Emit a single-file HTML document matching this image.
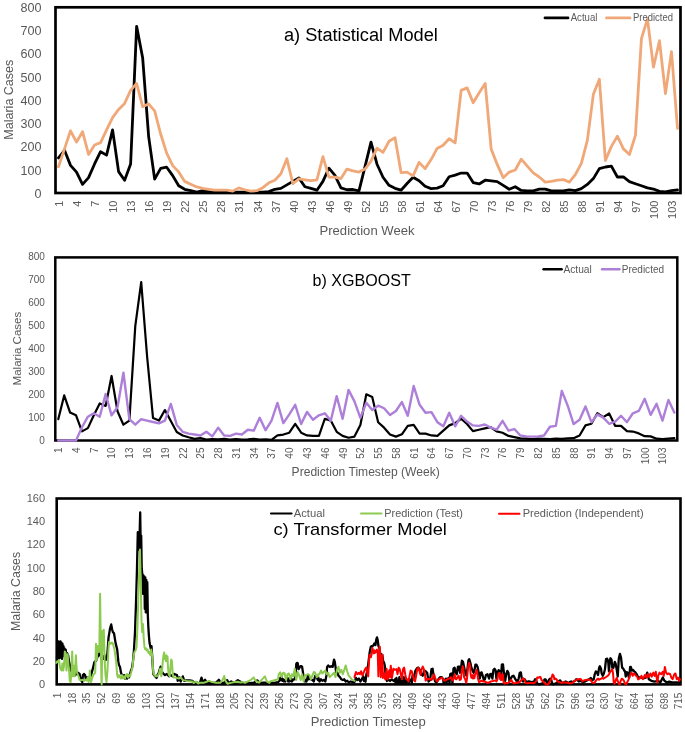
<!DOCTYPE html>
<html><head><meta charset="utf-8"><title>Malaria charts</title>
<style>html,body{margin:0;padding:0;background:#fff;}body{width:685px;height:732px;overflow:hidden;}svg{display:block;position:absolute;left:0;top:0;}svg.txt{will-change:transform;}</style>
</head><body>
<svg width="685" height="732" viewBox="0 0 685 732" font-family='"Liberation Sans", sans-serif'>
<rect width="685" height="732" fill="#fff"/>
<rect x="55.5" y="7.3" width="625" height="185.7" fill="none" stroke="#000" stroke-width="2.7"/>
<polyline points="58.5,157.95 64.51,150.29 70.52,165.38 76.53,172.11 82.54,184.41 88.55,177.68 94.56,163.98 100.57,151.68 106.58,155.16 112.59,129.86 118.6,171.64 124.61,180.23 130.62,163.98 136.63,26.33 142.64,57.67 148.65,136.59 154.66,179.07 160.67,168.39 166.68,167.23 172.69,175.59 178.7,185.8 184.71,189.29 190.72,190.68 196.73,192.07 202.74,190.68 208.75,191.38 214.75,192.07 220.76,192.07 226.77,192.07 232.78,192.07 238.79,192.07 244.8,192.07 250.81,192.07 256.82,192.07 262.83,192.07 268.84,191.61 274.85,189.29 280.86,188.36 286.87,184.88 292.88,181.39 298.89,177.91 304.9,186.73 310.91,188.36 316.92,190.21 322.93,181.39 328.94,168.16 334.95,175.36 340.96,187.89 346.97,189.75 352.98,189.52 358.99,190.91 365,166.54 371,142.16 377.01,164.22 383.02,177.22 389.03,185.34 395.04,188.36 401.05,190.21 407.06,183.48 413.07,177.22 419.08,180.7 425.09,186.27 431.1,188.59 437.11,188.13 443.12,185.8 449.13,176.75 455.14,175.13 461.15,173.04 467.16,173.04 473.17,182.55 479.18,183.95 485.19,180.23 491.2,180.93 497.21,181.63 503.22,185.34 509.23,189.29 515.24,186.73 521.25,190.45 527.25,190.91 533.26,190.91 539.27,189.05 545.28,189.05 551.29,190.91 557.3,190.91 563.31,190.91 569.32,189.98 575.33,190.68 581.34,188.59 587.35,184.41 593.36,178.61 599.37,168.63 605.38,167 611.39,166.07 617.4,176.98 623.41,176.98 629.42,181.63 635.43,183.72 641.44,185.8 647.45,187.89 653.46,189.05 659.47,191.38 665.48,191.84 671.49,190.68 677.5,189.98" fill="none" stroke="#000" stroke-width="2.8" stroke-linejoin="round" stroke-linecap="round"/>
<polyline points="58.5,166.77 64.51,148.9 70.52,130.79 76.53,142.16 82.54,131.72 88.55,154.47 94.56,144.95 100.57,142.63 106.58,129.86 112.59,117.56 118.6,109.44 124.61,103.4 130.62,90.4 136.63,83.44 142.64,106.65 148.65,103.86 154.66,110.83 160.67,134.04 166.68,153.07 172.69,165.61 178.7,171.88 184.71,181.39 190.72,184.18 196.73,186.96 202.74,188.36 208.75,189.29 214.75,190.21 220.76,190.21 226.77,190.21 232.78,191.14 238.79,187.89 244.8,189.75 250.81,191.14 256.82,190.68 262.83,187.66 268.84,182.79 274.85,180.23 280.86,173.73 286.87,158.65 292.88,183.72 298.89,178.84 304.9,179.77 310.91,180.7 316.92,179.77 322.93,156.56 328.94,177.22 334.95,177.22 340.96,178.61 346.97,169.09 352.98,170.95 358.99,172.11 365,169.09 371,161.2 377.01,148.2 383.02,152.38 389.03,141.24 395.04,137.75 401.05,172.57 407.06,172.11 413.07,175.82 419.08,162.36 425.09,168.63 431.1,159.57 437.11,148.43 443.12,145.18 449.13,138.68 455.14,142.86 461.15,90.4 467.16,87.85 473.17,102.7 479.18,92.72 485.19,83.44 491.2,149.13 497.21,164.45 503.22,177.68 509.23,172.11 515.24,170.02 521.25,159.11 527.25,166.07 533.26,172.81 539.27,176.98 545.28,182.09 551.29,181.39 557.3,180.23 563.31,179.54 569.32,182.09 575.33,174.66 581.34,163.29 587.35,140.31 593.36,94.35 599.37,79.26 605.38,160.5 611.39,146.34 617.4,136.13 623.41,148.9 629.42,154.47 635.43,135.43 641.44,38.64 647.45,18.91 653.46,67.19 659.47,40.73 665.48,93.65 671.49,51.64 677.5,128.47" fill="none" stroke="#F0A878" stroke-width="2.8" stroke-linejoin="round" stroke-linecap="round"/>
<line x1="545" y1="17.9" x2="568" y2="17.9" stroke="#000" stroke-width="2.8" stroke-linecap="round"/>
<line x1="606.5" y1="17.9" x2="630" y2="17.9" stroke="#F0A878" stroke-width="2.8" stroke-linecap="round"/>
<rect x="55.3" y="257.4" width="622" height="183.1" fill="none" stroke="#000" stroke-width="2.5"/>
<polyline points="58.26,419.21 64.19,395.41 70.11,412.58 76.03,415.32 81.96,431.35 87.88,428.14 93.8,415.32 99.73,403.42 105.65,405.94 111.58,375.96 117.5,411.2 123.42,424.71 129.35,420.59 135.27,326.06 141.2,282.12 147.12,356.73 153.04,418.07 158.97,420.59 164.89,410.06 170.81,421.05 176.74,432.03 182.66,435.46 188.59,437.3 194.51,438.9 200.43,437.98 206.36,439.58 212.28,439.13 218.2,439.36 224.13,438.9 230.05,439.58 235.98,439.13 241.9,439.58 247.82,439.36 253.75,438.9 259.67,439.58 265.6,439.36 271.52,439.81 277.44,435.46 283.37,434.55 289.29,432.72 295.21,423.79 301.14,432.72 307.06,435.46 312.99,435.92 318.91,435.92 324.83,418.76 330.76,420.59 336.68,431.8 342.6,435.92 348.53,437.75 354.45,436.61 360.38,424.94 366.3,394.27 372.22,397.01 378.15,422.19 384.07,427.68 390,434.55 395.92,436.61 401.84,434.32 407.77,425.85 413.69,424.94 419.61,433.63 425.54,433.63 431.46,435.46 437.39,435.92 443.31,430.66 449.23,425.39 455.16,423.11 461.08,418.76 467,424.02 472.93,431.12 478.85,429.74 484.78,428.37 490.7,427.23 496.62,431.35 502.55,432.72 508.47,435.92 514.4,437.07 520.32,438.44 526.24,438.67 532.17,439.13 538.09,438.67 544.01,438.9 549.94,439.13 555.86,438.67 561.79,438.9 567.71,438.44 573.63,438.21 579.56,435.46 585.48,425.39 591.4,423.79 597.33,413.26 603.25,417.15 609.18,413.49 615.1,425.85 621.02,425.85 626.95,431.12 632.87,431.57 638.8,433.4 644.72,436.15 650.64,436.38 656.57,438.67 662.49,439.13 668.41,438.67 674.34,438.21" fill="none" stroke="#000" stroke-width="2.2" stroke-linejoin="round" stroke-linecap="round"/>
<polyline points="58.26,440.5 64.19,440.5 70.11,440.5 76.03,440.5 81.96,427.23 87.88,416.7 93.8,413.26 99.73,416.7 105.65,394.04 111.58,415.32 117.5,407.31 123.42,372.75 129.35,419.21 135.27,424.71 141.2,419.21 147.12,420.59 153.04,421.96 158.97,423.33 164.89,420.59 170.81,403.88 176.74,424.94 182.66,431.8 188.59,433.63 194.51,434.55 200.43,435.46 206.36,431.8 212.28,436.38 218.2,427.68 224.13,435.46 230.05,435.92 235.98,433.63 241.9,434.55 247.82,429.74 253.75,430.66 259.67,417.84 265.6,430.2 271.52,420.59 277.44,402.96 283.37,423.11 289.29,414.41 295.21,404.8 301.14,424.02 307.06,411.89 312.99,419.67 318.91,415.32 324.83,413.26 330.76,420.82 336.68,396.1 342.6,418.76 348.53,389.92 354.45,401.36 360.38,417.84 366.3,402.74 372.22,410.06 378.15,405.71 384.07,408.23 390,415.09 395.92,410.98 401.84,402.05 407.77,415.78 413.69,386.03 419.61,404.8 425.54,412.81 431.46,412.12 437.39,422.19 443.31,426.31 449.23,412.81 455.16,426.31 461.08,415.78 467,421.5 472.93,425.39 478.85,425.85 484.78,424.48 490.7,427.68 496.62,429.74 502.55,420.82 508.47,430.66 514.4,429.06 520.32,435.46 526.24,436.38 532.17,436.61 538.09,436.38 544.01,435.46 549.94,426.77 555.86,425.85 561.79,390.83 567.71,405.71 573.63,424.02 579.56,419.67 585.48,406.4 591.4,422.19 597.33,414.41 603.25,417.61 609.18,423.79 615.1,421.73 621.02,415.78 626.95,422.19 632.87,413.26 638.8,410.98 644.72,398.84 650.64,414.87 656.57,403.88 662.49,420.59 668.41,399.99 674.34,412.58" fill="none" stroke="#AD7FD8" stroke-width="2.4" stroke-linejoin="round" stroke-linecap="round"/>
<line x1="543.5" y1="269.3" x2="561.7" y2="269.3" stroke="#000" stroke-width="2.4" stroke-linecap="round"/>
<line x1="602" y1="269.3" x2="619.5" y2="269.3" stroke="#AD7FD8" stroke-width="2.4" stroke-linecap="round"/>
<rect x="56.7" y="498.5" width="623.8" height="185.9" fill="none" stroke="#000" stroke-width="2.6"/>
<polyline points="57,658.84 57.5,642.57 58,656.51 58.5,641.41 59,658.84 59.5,642.57 60,657.68 60.5,641.41 61,656.51 61.5,642.57 62,658.84 62.5,643.73 63,656.51 63.5,646.06 64,651.87 64.5,648.38 65,655.35 65.7,649.54 66.3,656.51 67,653.03 68.1,655.35 69,661.16 70,665.81 70.6,669.3 71.5,671.62 72.5,670.46 73.5,673.94 74.5,671.62 75.5,675.11 76.3,671.62 77,673.94 78,672.78 79.6,673.94 80.5,678.59 81.5,680.91 82.3,682.08 82.9,675.11 84,673.94 85,675.11 86,679.75 87,677.43 88,678.59 89,677.43 90,678.59 91,675.11 92,671.62 93,668.13 94.3,662.32 95.5,661.16 96.5,660 97.6,656.51 98.5,655.35 99.5,653.03 100.5,655.35 101.4,658.84 102.5,656.51 103.5,658.84 104.5,655.35 105.5,660 106.9,658.84 107.7,649.54 108.5,637.92 110,628.63 111.2,624.45 112.2,629.79 112.9,632.12 114,633.28 115.6,643.15 117.2,649.54 118.3,661.16 118.9,664.65 120,666.97 121,672.78 122,675.11 123,677.43 124,675.11 125,678.59 126,676.27 127,678.59 128,675.11 129,677.43 130,673.94 131,670.46 132,668.13 133,661.16 134,649.54 135,632.12 136,603.07 137,568.21 137.8,532.19 138.3,547.3 138.8,532.19 139.3,549.62 139.8,527.55 140.2,512.44 140.7,547.3 141.2,535.68 141.7,568.21 142.3,574.02 142.8,593.77 143.3,575.18 143.8,591.45 144.3,576.35 144.8,608.88 145.3,577.51 145.8,612.36 146.3,579.83 146.8,612.36 147.3,582.15 147.8,614.69 148.3,626.31 148.8,634.44 149.5,642.57 150.2,646.06 151,649.54 151.5,646.06 152.2,656.51 152.8,666.97 153.3,673.94 154,675.11 155,676.27 156.6,678.01 157.5,675.11 158.8,672.78 159.7,669.3 160.6,666.62 161.5,670.46 162.5,672.78 163.5,673.94 165,675.11 167,673.94 169,676.27 171,675.11 172.5,676.27 174,673.94 175.5,674.52 177,675.11 177.7,680.91 179.2,677.43 180.7,681.5 182.8,676.38 184.3,680.91 186,680.33 189.4,680.33 192.3,680.91 194,682.66 196,682.08 198,683.24 200,682.66 201.5,677.66 203,682.66 205.1,679.75 207,683.24 210,682.66 213,683.24 216,682.66 218.9,679.75 221,683.24 224,682.66 227.1,680.1 229,683.24 231.2,681.5 234,683.24 237.8,680.1 240.9,682.08 244,683.24 247,682.66 250,683.24 254,682.66 257.2,680.33 260,683.24 263,682.66 265.4,682.66 268,683.24 270,682.59 274.38,682.96 278.03,682.23 279.49,680.76 280.22,677.85 280.95,680.03 281.68,677.12 282.41,680.76 283.14,679.31 283.87,681.5 284.6,680.03 285.33,681.5 286.06,679.31 287.52,677.85 288.25,681.5 288.98,679.31 289.71,681.5 291.17,678.58 291.9,681.5 293.36,679.31 294.82,679.31 295.55,675.66 296.28,663.97 297.01,662.88 297.74,663.25 298.47,669.09 299.2,668.35 299.93,666.9 300.66,666.17 301.39,666.17 302.12,666.9 303.21,674.2 304.31,680.03 305.04,681.5 305.77,680.03 306.5,681.5 307.96,675.66 308.69,679.31 309.42,677.12 310.88,679.31 312.34,680.03 313.8,681.5 314.53,678.58 315.26,675.66 315.99,677.12 316.72,676.38 317.45,679.31 318,680.03 318.18,677.12 319.46,681.5 320.92,679.31 322.38,680.76 323.84,680.03 325.3,681.5 326.39,675.66 327.12,666.9 328.22,665.44 329.68,666.9 331.14,666.17 332.6,666.9 333.33,663.25 334.06,659.59 334.79,661.79 335.52,666.9 336.25,673.47 337.34,672.73 338.44,675.66 339.9,677.12 341.36,679.31 342.82,680.03 344.28,679.31 345.74,681.5 347.2,680.76 348.66,682.23 350.85,681.5 353.04,682.23 354.5,681.87 355.96,677.85 357.42,680.03 358.88,678.58 360.34,681.5 361.8,679.31 363.26,676.38 364,680.97 364.77,677.91 365.53,681.73 366.3,674.85 367.44,670.26 368.59,661.07 369.74,651.89 370.89,646.53 372.03,646.15 373.18,645.77 374.33,643.48 375.48,645.01 376.24,639.66 377.01,637.36 377.77,640.41 378.54,646.53 379.3,647.3 380.07,653.42 381.21,654.19 382.36,654.96 383.13,661.07 384.05,662.6 384.81,665.67 385.58,674.85 386.34,677.91 386.95,680.97 388.48,679.44 390.01,680.97 391.54,679.44 393.99,680.97 395,679.31 395.73,682.96 396.46,677.85 397.19,682.59 397.92,681.5 398.65,682.96 399.38,677.12 400.11,682.59 400.84,679.31 401.57,682.96 402.3,681.5 403.03,682.96 403.76,677.12 404.49,682.23 405.22,679.31 405.95,682.96 406.68,681.5 408.14,681.5 408.87,682.96 409.6,679.31 411.06,680.03 411.79,682.96 412.52,675.66 413.98,677.12 415.44,670.55 416.9,668.35 418.36,667.62 419.82,669.82 421.28,674.2 422.74,675.66 424.2,670.55 425.66,671.28 427.12,672.73 428.58,681.5 430.04,680.03 431.5,669.09 432.59,668.73 433.69,676.38 435.15,681.5 436.61,682.23 438.8,678.58 440.26,677.12 441.72,677.12 443.18,679.31 443.65,683.32 444.38,681.5 445.84,678.58 446.57,682.96 447.3,679.31 448.76,677.85 449.49,683.32 450.22,674.2 451.31,673.47 452.04,677.12 452.41,682.96 452.77,680.03 453.5,668.35 454.6,667.62 455.69,672.73 456.79,674.2 457.88,666.9 458.98,666.53 460.07,672.73 461.17,666.9 461.9,660.7 462.99,661.79 464.09,666.9 465.18,672.73 466.28,675.66 467.37,669.09 468.47,660.33 469.2,659.23 470.29,662.52 471.39,667.62 472.48,670.55 473.58,672.73 474.31,671.28 475.4,664.71 476.5,664.71 477.59,666.9 478.69,672.73 479.78,678.58 480.88,672.73 481.61,672.37 482.7,675.66 483.8,680.03 484.89,679.31 485.99,674.93 487.45,674.2 489.09,678.58 490.19,674.2 491.28,673.83 492.38,678.58 493.47,669.82 494.57,668.73 495.66,670.55 496.39,678.58 497.49,672.73 498.58,670.18 499.68,671.28 500.77,679.31 501.87,664.71 502.96,664.35 504.06,674.2 505.15,680.76 506.25,674.2 507.34,670.91 508.44,672.73 509.53,681.5 510.63,678.58 512.09,676.38 513.55,675.66 515.01,678.58 516.47,680.76 517.56,681.5 518.66,678.58 519.75,672.73 520.85,672.37 521.94,679.31 523.04,681.5 524.5,679.31 525.59,680.76 526.69,681.87 528.15,681.5 529.61,681.5 531.07,682.23 532.53,681.87 533.99,681.5 535.08,679.31 536.09,680.03 537.19,683.69 539.38,684.4 541.57,683.69 543.03,682.96 544.49,679.31 545.58,679.31 546.68,682.23 547.77,682.96 548.87,680.03 549.96,678.58 551.06,679.31 552.15,682.96 553.25,684.4 555.44,683.69 557.63,682.23 559.09,680.76 560.18,680.4 561.28,682.23 562.74,682.96 564.2,682.23 565.66,681.5 567.12,682.23 568.58,682.96 570.04,681.87 571.13,681.5 572.23,682.23 573.69,681.5 575.15,680.76 576.24,679.31 577.34,680.03 578.8,681.5 580.26,680.76 581.72,681.5 583.18,682.23 585,681.5 590,678.68 590.73,677.95 592.19,680.15 593.65,679.42 594.74,674.3 595.84,671.39 596.93,672.12 598.03,675.04 599.12,667.74 599.85,666.27 600.95,668.47 601.68,673.57 602.77,675.77 603.87,673.57 604.96,669.2 606.06,658.98 607.15,658.62 608.25,661.89 608.98,671.39 609.71,661.16 610.44,658.25 611.53,659.71 612.26,667.74 613.36,667.74 614.82,661.89 615.55,663.36 616.64,669.2 617.74,676.5 618.83,658.25 619.93,653.87 621.02,657.51 622.12,667.74 623.21,668.47 624.31,670.66 625.04,671.39 625.77,676.5 626.86,672.12 627.96,673.57 629.05,677.95 630.15,667.01 630.88,667.01 631.97,670.66 633.07,669.92 634.16,671.39 635.26,672.12 636.72,674.3 638.18,677.23 640.66,677.54 643.11,678.36 645.57,677.54 647.21,672.62 648.85,679.18 651.31,680.82 654.59,681.63 657.87,680.82 660.33,682.46 662.79,677.54 664.43,680.82 666.89,682.46 669.34,681.63 671.8,682.46 674.26,682.46 676.72,682.46 679.18,682.46" fill="none" stroke="#000" stroke-width="2.3" stroke-linejoin="round" stroke-linecap="round"/>
<polyline points="56.2,662.91 57.5,661.16 58.3,662.32 59.1,660 59.9,666.97 60.7,669.3 61.6,670.46 62.4,663.49 63.2,670.46 64,665.81 64.8,651.4 65.7,653.03 66.5,670.46 67.2,661.16 67.7,654.19 68.3,663.49 68.9,668.13 69.8,680.91 70.6,682.08 71.4,673.94 72.2,651.4 73,676.27 73.5,672.78 73.9,665.81 74.7,676.27 75.3,666.97 75.9,655.35 76.5,666.97 77.1,672.78 78,675.11 79,677.43 79.6,679.75 81,680.33 82.5,679.75 84,680.91 85.5,679.75 86.5,680.33 87.8,677.43 88.6,682.08 89.4,678.59 89.8,670.46 90.4,677.43 91.1,682.08 92,678.59 92.7,676.27 94,673.94 95.2,672.78 96,643.73 96.8,660 97.6,646.06 98.4,651.87 99.3,651.87 100.1,593.77 100.7,637.92 101.4,678.59 101.7,684.4 102.5,630.95 103.2,649.54 103.8,629.79 104.7,661.16 105.5,675.11 106.5,682.08 107.5,670.46 108.3,651.87 109,641.88 110.7,643.73 112,642.57 112.9,643.73 114.5,649.54 116.1,661.16 117.2,675.11 118,677.43 119,675.11 120,677.43 121,678.59 122,675.11 123,678.59 124,676.27 125,678.59 126,675.11 127,673.94 128,677.43 129,675.11 130,676.27 131,672.78 132.5,666.97 133.5,656.51 134.5,651.87 135.5,650.71 136.5,647.22 137.5,626.31 138.5,591.45 139.3,568.21 140,549.62 140.8,585.64 141.5,620.5 142.2,632.12 143,623.98 143.7,637.92 144.5,647.22 145.3,649.54 146,648.38 147,650.71 147.5,649.54 148.5,653.03 149,651.87 150.5,655.35 151.2,649.54 152,654.19 152.7,663.49 153.3,672.78 154.4,675.11 155.5,676.27 157.3,676.27 158.8,673.94 160.2,668.48 161.3,676.27 162.1,670.46 162.8,661.16 163.5,655.35 164.2,652.45 164.8,658.84 165.3,656.51 165.9,661.16 166.4,655.35 167,660 167.5,656.51 168,666.97 168.6,673.94 169.7,676.27 170.5,666.97 171.2,659.42 171.9,661.16 172.6,672.78 173.4,677.43 175.5,677.43 177,678.01 179.2,678.59 180.5,677.43 181.4,678.01 182.5,679.75 183.6,680.1 186.5,680.91 189,681.15 192.3,681.5 193.8,683.01 196,681.5 198.2,683.47 200,682.66 202,682.66 204,682.66 206,682.08 209,680.91 212,682.08 216.3,682.66 220.4,682.66 222,680.91 223.3,678.59 224.2,676.03 225.5,680.91 227.6,683.82 230.6,682.89 234.7,682.08 237.8,681.73 240,682.42 242.9,682.08 245,682.89 249,680.91 251,679.75 253.6,677.43 255.7,680.91 259.2,682.66 262.3,679.17 264.9,676.38 266.9,681.5 269.5,682.89 270,681.5 278.03,679.31 278.76,674.2 280.22,672.37 281.68,677.12 283.14,672.73 284.6,673.11 286.06,680.03 287.52,674.2 288.98,673.47 290.44,679.31 291.9,674.2 293.36,676.38 294.82,668.73 296.28,680.03 297.74,672 299.2,675.66 300.66,680.03 302.12,674.2 303.58,681.5 305.04,675.66 306.5,674.93 307.96,674.2 309.42,674.93 310.88,679.31 312.34,675.66 313.8,672 315.26,672.73 316.72,677.12 318,676.38 318.18,674.2 319.46,674.2 320.92,670.55 322.38,673.47 323.84,672 325.3,670.55 326.76,674.2 328.22,672.73 329.68,677.12 331.14,675.66 332.6,674.2 334.06,672.73 335.52,677.12 336.98,669.82 338.44,666.9 339.9,672.73 341.36,669.82 342.82,674.2 344.28,669.82 345.74,665.44 347.2,671.28 348.66,675.66 350.12,677.12 351.58,679.31 353.04,680.03 354.5,680.76" fill="none" stroke="#8CCB50" stroke-width="2.0" stroke-linejoin="round" stroke-linecap="round"/>
<polyline points="354.5,677.12 355.96,672 357.42,674.2 358.88,672.73 359.97,674.2 361.07,671.28 362.53,675.66 363.62,672.73 364.72,669.82 366.18,667.62 367.06,671.78 368.21,676.37 369.36,654.96 370.89,657.25 371.65,654.19 372.42,648.07 373.18,651.12 373.95,653.42 374.71,650.36 375.48,652.66 376.24,651.12 377.01,649.6 377.77,653.42 378.38,676.37 379.07,654.96 379.68,646.53 380.22,653.42 380.83,677.14 381.6,657.25 382.36,654.96 382.97,677.91 383.89,673.32 384.66,677.91 385.42,679.44 386.57,668.73 387.72,679.44 389.25,670.26 390.01,677.14 390.78,665.67 391.93,677.91 393.46,668.73 395,669.82 396.46,669.09 397.55,674.2 398.65,667.62 399.74,669.09 400.84,674.2 401.93,679.31 403.03,669.09 404.12,667.62 405.22,674.2 406.31,679.31 407.41,679.31 408.5,681.5 409.6,675.66 410.69,670.55 411.79,671.28 412.88,675.66 413.98,680.03 415.07,681.5 416.17,675.66 417.26,669.09 418.36,667.62 419.45,671.28 420.55,674.93 421.64,669.09 422.74,666.53 423.83,669.09 424.93,674.2 425.66,680.76 427.12,678.58 428.58,679.31 430.04,678.58 431.5,680.03 432.96,677.85 434.05,674.2 435.15,677.85 436.24,680.76 437.34,681.5 438.8,679.31 440.26,678.58 441.72,677.49 443.18,679.31 444.38,680.76 445.84,680.03 447.3,679.31 448.76,678.58 450.22,677.85 450.95,677.12 451.68,679.31 452.77,680.76 453.87,677.12 454.6,674.2 455.33,678.58 456.42,679.31 457.52,677.12 458.61,675.66 459.71,680.03 460.8,679.31 461.9,670.55 462.63,666.17 463.36,668.35 464.09,677.12 465.18,679.31 466.28,682.96 467.01,678.58 468.1,666.9 469.2,662.88 469.93,665.44 470.66,674.2 471.39,677.85 472.12,674.93 472.85,678.58 473.58,675.29 474.31,678.21 475.04,674.56 475.77,672.73 476.5,669.82 477.23,672 477.96,678.58 479.05,682.23 480.15,681.5 481.61,680.76 483.07,681.5 484.53,681.5 485.99,682.23 487.45,682.96 489.46,682.23 490.92,681.5 492.38,681.14 493.84,680.76 495.3,680.4 496.39,681.5 497.49,679.31 498.58,673.47 499.68,672.73 500.41,679.31 501.5,680.03 502.23,674.2 502.96,674.93 503.69,682.96 504.79,683.69 506.25,682.96 507.71,683.32 509.17,682.23 510.26,680.76 511.36,680.03 512.45,682.23 513.55,683.32 515.01,683.32 516.47,682.59 517.93,682.96 519.39,682.23 520.85,680.76 522.31,679.31 523.4,678.21 524.5,679.67 525.59,682.96 527.42,683.32 529.61,682.96 531.8,682.96 533.99,683.32 536.09,681.5 537.19,677.49 538.28,677.85 539.38,677.12 540.47,677.12 541.57,680.03 543.03,681.5 544.49,682.96 545.95,684.4 547.04,684.4 548.14,684.4 549.23,682.96 550.33,680.76 551.42,678.58 552.52,674.56 553.61,675.66 554.34,679.31 555.44,678.58 556.53,679.31 557.63,681.5 559.09,681.87 560.55,682.59 562.01,682.96 563.47,682.23 564.93,682.59 566.39,682.59 567.85,682.96 569.31,683.32 570.77,683.32 572.23,682.96 573.69,681.5 575.15,680.76 576.61,679.67 578.07,679.31 579.53,678.94 580.99,679.31 582.45,681.5 583.54,680.76 585,680.03 590,679.42 591.09,680.88 592.19,682.33 593.65,683.06 594.74,682.33 595.84,680.88 596.93,679.42 598.03,678.68 599.12,679.78 600.22,679.06 601.31,678.68 602.41,677.95 603.5,678.68 604.6,677.95 605.69,677.23 606.79,676.5 607.88,675.77 608.98,674.3 610.07,672.12 611.17,670.66 612.26,669.2 612.99,672.85 613.72,682.33 614.45,683.8 615.55,680.88 616.64,677.95 617.74,680.88 618.83,683.8 619.93,684.4 620.66,680.88 621.75,678.68 622.85,679.42 623.94,680.88 625.04,683.8 626.13,684.4 627.23,682.33 628.32,680.15 629.42,677.23 630.51,674.3 631.61,672.85 632.7,675.77 633.8,673.57 634.89,674.3 635.99,675.77 637.08,676.5 638.18,679.42 639.84,678.36 641.48,675.91 643.11,679.18 644.75,675.08 646.39,677.54 647.62,674.26 648.85,676.72 650.49,673.44 651.72,676.72 653.36,672.62 654.59,675.91 655.82,671.81 656.64,677.54 657.46,682.46 658.28,675.91 659.51,672.62 661.15,674.26 662.79,671.81 663.77,675.91 664.84,666.89 666.07,672.62 667.3,674.26 668.52,673.44 670.16,674.26 671.39,677.54 672.62,679.18 674.26,674.26 675.49,673.44 676.72,679.18 677.95,677.54 679.18,680.82 680,679.18" fill="none" stroke="#FF0000" stroke-width="2.0" stroke-linejoin="round" stroke-linecap="round"/>
<line x1="271" y1="513.5" x2="291.5" y2="513.5" stroke="#000" stroke-width="2.2" stroke-linecap="round"/>
<line x1="361" y1="513.5" x2="381.5" y2="513.5" stroke="#8CCB50" stroke-width="2.0" stroke-linecap="round"/>
<line x1="499" y1="513.8" x2="519.5" y2="513.8" stroke="#FF0000" stroke-width="2.0" stroke-linecap="round"/>
</svg>
<svg class="txt" width="685" height="732" viewBox="0 0 685 732" font-family='"Liberation Sans", sans-serif'>
<text x="41.6" y="197.83" font-size="13.5" fill="#595959" text-anchor="end" textLength="7" lengthAdjust="spacingAndGlyphs">0</text>
<text x="41.6" y="174.57" font-size="13.5" fill="#595959" text-anchor="end" textLength="21" lengthAdjust="spacingAndGlyphs">100</text>
<text x="41.6" y="151.3" font-size="13.5" fill="#595959" text-anchor="end" textLength="21" lengthAdjust="spacingAndGlyphs">200</text>
<text x="41.6" y="128.04" font-size="13.5" fill="#595959" text-anchor="end" textLength="21" lengthAdjust="spacingAndGlyphs">300</text>
<text x="41.6" y="104.78" font-size="13.5" fill="#595959" text-anchor="end" textLength="21" lengthAdjust="spacingAndGlyphs">400</text>
<text x="41.6" y="81.52" font-size="13.5" fill="#595959" text-anchor="end" textLength="21" lengthAdjust="spacingAndGlyphs">500</text>
<text x="41.6" y="58.25" font-size="13.5" fill="#595959" text-anchor="end" textLength="21" lengthAdjust="spacingAndGlyphs">600</text>
<text x="41.6" y="34.99" font-size="13.5" fill="#595959" text-anchor="end" textLength="21" lengthAdjust="spacingAndGlyphs">700</text>
<text x="41.6" y="11.73" font-size="13.5" fill="#595959" text-anchor="end" textLength="21" lengthAdjust="spacingAndGlyphs">800</text>
<text x="13.3" y="99.7" font-size="12.4" fill="#595959" text-anchor="middle" textLength="80" lengthAdjust="spacingAndGlyphs" transform="rotate(-90 13.3 99.7)">Malaria Cases</text>
<text x="63.2" y="200.6" font-size="11" fill="#595959" text-anchor="end" transform="rotate(-90 63.2 200.6)">1</text>
<text x="81.23" y="200.6" font-size="11" fill="#595959" text-anchor="end" transform="rotate(-90 81.23 200.6)">4</text>
<text x="99.26" y="200.6" font-size="11" fill="#595959" text-anchor="end" transform="rotate(-90 99.26 200.6)">7</text>
<text x="117.29" y="200.6" font-size="11" fill="#595959" text-anchor="end" transform="rotate(-90 117.29 200.6)">10</text>
<text x="135.32" y="200.6" font-size="11" fill="#595959" text-anchor="end" transform="rotate(-90 135.32 200.6)">13</text>
<text x="153.35" y="200.6" font-size="11" fill="#595959" text-anchor="end" transform="rotate(-90 153.35 200.6)">16</text>
<text x="171.38" y="200.6" font-size="11" fill="#595959" text-anchor="end" transform="rotate(-90 171.38 200.6)">19</text>
<text x="189.41" y="200.6" font-size="11" fill="#595959" text-anchor="end" transform="rotate(-90 189.41 200.6)">22</text>
<text x="207.44" y="200.6" font-size="11" fill="#595959" text-anchor="end" transform="rotate(-90 207.44 200.6)">25</text>
<text x="225.46" y="200.6" font-size="11" fill="#595959" text-anchor="end" transform="rotate(-90 225.46 200.6)">28</text>
<text x="243.49" y="200.6" font-size="11" fill="#595959" text-anchor="end" transform="rotate(-90 243.49 200.6)">31</text>
<text x="261.52" y="200.6" font-size="11" fill="#595959" text-anchor="end" transform="rotate(-90 261.52 200.6)">34</text>
<text x="279.55" y="200.6" font-size="11" fill="#595959" text-anchor="end" transform="rotate(-90 279.55 200.6)">37</text>
<text x="297.58" y="200.6" font-size="11" fill="#595959" text-anchor="end" transform="rotate(-90 297.58 200.6)">40</text>
<text x="315.61" y="200.6" font-size="11" fill="#595959" text-anchor="end" transform="rotate(-90 315.61 200.6)">43</text>
<text x="333.64" y="200.6" font-size="11" fill="#595959" text-anchor="end" transform="rotate(-90 333.64 200.6)">46</text>
<text x="351.67" y="200.6" font-size="11" fill="#595959" text-anchor="end" transform="rotate(-90 351.67 200.6)">49</text>
<text x="369.7" y="200.6" font-size="11" fill="#595959" text-anchor="end" transform="rotate(-90 369.7 200.6)">52</text>
<text x="387.72" y="200.6" font-size="11" fill="#595959" text-anchor="end" transform="rotate(-90 387.72 200.6)">55</text>
<text x="405.75" y="200.6" font-size="11" fill="#595959" text-anchor="end" transform="rotate(-90 405.75 200.6)">58</text>
<text x="423.78" y="200.6" font-size="11" fill="#595959" text-anchor="end" transform="rotate(-90 423.78 200.6)">61</text>
<text x="441.81" y="200.6" font-size="11" fill="#595959" text-anchor="end" transform="rotate(-90 441.81 200.6)">64</text>
<text x="459.84" y="200.6" font-size="11" fill="#595959" text-anchor="end" transform="rotate(-90 459.84 200.6)">67</text>
<text x="477.87" y="200.6" font-size="11" fill="#595959" text-anchor="end" transform="rotate(-90 477.87 200.6)">70</text>
<text x="495.9" y="200.6" font-size="11" fill="#595959" text-anchor="end" transform="rotate(-90 495.9 200.6)">73</text>
<text x="513.93" y="200.6" font-size="11" fill="#595959" text-anchor="end" transform="rotate(-90 513.93 200.6)">76</text>
<text x="531.95" y="200.6" font-size="11" fill="#595959" text-anchor="end" transform="rotate(-90 531.95 200.6)">79</text>
<text x="549.98" y="200.6" font-size="11" fill="#595959" text-anchor="end" transform="rotate(-90 549.98 200.6)">82</text>
<text x="568.01" y="200.6" font-size="11" fill="#595959" text-anchor="end" transform="rotate(-90 568.01 200.6)">85</text>
<text x="586.04" y="200.6" font-size="11" fill="#595959" text-anchor="end" transform="rotate(-90 586.04 200.6)">88</text>
<text x="604.07" y="200.6" font-size="11" fill="#595959" text-anchor="end" transform="rotate(-90 604.07 200.6)">91</text>
<text x="622.1" y="200.6" font-size="11" fill="#595959" text-anchor="end" transform="rotate(-90 622.1 200.6)">94</text>
<text x="640.13" y="200.6" font-size="11" fill="#595959" text-anchor="end" transform="rotate(-90 640.13 200.6)">97</text>
<text x="658.16" y="200.6" font-size="11" fill="#595959" text-anchor="end" transform="rotate(-90 658.16 200.6)">100</text>
<text x="676.19" y="200.6" font-size="11" fill="#595959" text-anchor="end" transform="rotate(-90 676.19 200.6)">103</text>
<text x="367" y="234.5" font-size="12.6" fill="#595959" text-anchor="middle" textLength="95" lengthAdjust="spacingAndGlyphs">Prediction Week</text>
<text x="283.9" y="41" font-size="17.6" fill="#000" text-anchor="start" textLength="154" lengthAdjust="spacingAndGlyphs">a) Statistical Model</text>
<text x="570.7" y="21.3" font-size="10.8" fill="#595959" text-anchor="start" textLength="26.7" lengthAdjust="spacingAndGlyphs">Actual</text>
<text x="633" y="21.3" font-size="10.8" fill="#595959" text-anchor="start" textLength="40" lengthAdjust="spacingAndGlyphs">Predicted</text>
<text x="44.9" y="444.18" font-size="10" fill="#595959" text-anchor="end">0</text>
<text x="44.9" y="421.18" font-size="10" fill="#595959" text-anchor="end">100</text>
<text x="44.9" y="398.18" font-size="10" fill="#595959" text-anchor="end">200</text>
<text x="44.9" y="375.18" font-size="10" fill="#595959" text-anchor="end">300</text>
<text x="44.9" y="352.18" font-size="10" fill="#595959" text-anchor="end">400</text>
<text x="44.9" y="329.18" font-size="10" fill="#595959" text-anchor="end">500</text>
<text x="44.9" y="306.18" font-size="10" fill="#595959" text-anchor="end">600</text>
<text x="44.9" y="283.18" font-size="10" fill="#595959" text-anchor="end">700</text>
<text x="44.9" y="260.18" font-size="10" fill="#595959" text-anchor="end">800</text>
<text x="20.8" y="348.6" font-size="11.2" fill="#595959" text-anchor="middle" textLength="73.7" lengthAdjust="spacingAndGlyphs" transform="rotate(-90 20.8 348.6)">Malaria Cases</text>
<text x="62.16" y="447.5" font-size="10" fill="#595959" text-anchor="end" transform="rotate(-90 62.16 447.5)">1</text>
<text x="79.93" y="447.5" font-size="10" fill="#595959" text-anchor="end" transform="rotate(-90 79.93 447.5)">4</text>
<text x="97.7" y="447.5" font-size="10" fill="#595959" text-anchor="end" transform="rotate(-90 97.7 447.5)">7</text>
<text x="115.48" y="447.5" font-size="10" fill="#595959" text-anchor="end" transform="rotate(-90 115.48 447.5)">10</text>
<text x="133.25" y="447.5" font-size="10" fill="#595959" text-anchor="end" transform="rotate(-90 133.25 447.5)">13</text>
<text x="151.02" y="447.5" font-size="10" fill="#595959" text-anchor="end" transform="rotate(-90 151.02 447.5)">16</text>
<text x="168.79" y="447.5" font-size="10" fill="#595959" text-anchor="end" transform="rotate(-90 168.79 447.5)">19</text>
<text x="186.56" y="447.5" font-size="10" fill="#595959" text-anchor="end" transform="rotate(-90 186.56 447.5)">22</text>
<text x="204.33" y="447.5" font-size="10" fill="#595959" text-anchor="end" transform="rotate(-90 204.33 447.5)">25</text>
<text x="222.1" y="447.5" font-size="10" fill="#595959" text-anchor="end" transform="rotate(-90 222.1 447.5)">28</text>
<text x="239.88" y="447.5" font-size="10" fill="#595959" text-anchor="end" transform="rotate(-90 239.88 447.5)">31</text>
<text x="257.65" y="447.5" font-size="10" fill="#595959" text-anchor="end" transform="rotate(-90 257.65 447.5)">34</text>
<text x="275.42" y="447.5" font-size="10" fill="#595959" text-anchor="end" transform="rotate(-90 275.42 447.5)">37</text>
<text x="293.19" y="447.5" font-size="10" fill="#595959" text-anchor="end" transform="rotate(-90 293.19 447.5)">40</text>
<text x="310.96" y="447.5" font-size="10" fill="#595959" text-anchor="end" transform="rotate(-90 310.96 447.5)">43</text>
<text x="328.73" y="447.5" font-size="10" fill="#595959" text-anchor="end" transform="rotate(-90 328.73 447.5)">46</text>
<text x="346.5" y="447.5" font-size="10" fill="#595959" text-anchor="end" transform="rotate(-90 346.5 447.5)">49</text>
<text x="364.28" y="447.5" font-size="10" fill="#595959" text-anchor="end" transform="rotate(-90 364.28 447.5)">52</text>
<text x="382.05" y="447.5" font-size="10" fill="#595959" text-anchor="end" transform="rotate(-90 382.05 447.5)">55</text>
<text x="399.82" y="447.5" font-size="10" fill="#595959" text-anchor="end" transform="rotate(-90 399.82 447.5)">58</text>
<text x="417.59" y="447.5" font-size="10" fill="#595959" text-anchor="end" transform="rotate(-90 417.59 447.5)">61</text>
<text x="435.36" y="447.5" font-size="10" fill="#595959" text-anchor="end" transform="rotate(-90 435.36 447.5)">64</text>
<text x="453.13" y="447.5" font-size="10" fill="#595959" text-anchor="end" transform="rotate(-90 453.13 447.5)">67</text>
<text x="470.9" y="447.5" font-size="10" fill="#595959" text-anchor="end" transform="rotate(-90 470.9 447.5)">70</text>
<text x="488.68" y="447.5" font-size="10" fill="#595959" text-anchor="end" transform="rotate(-90 488.68 447.5)">73</text>
<text x="506.45" y="447.5" font-size="10" fill="#595959" text-anchor="end" transform="rotate(-90 506.45 447.5)">76</text>
<text x="524.22" y="447.5" font-size="10" fill="#595959" text-anchor="end" transform="rotate(-90 524.22 447.5)">79</text>
<text x="541.99" y="447.5" font-size="10" fill="#595959" text-anchor="end" transform="rotate(-90 541.99 447.5)">82</text>
<text x="559.76" y="447.5" font-size="10" fill="#595959" text-anchor="end" transform="rotate(-90 559.76 447.5)">85</text>
<text x="577.53" y="447.5" font-size="10" fill="#595959" text-anchor="end" transform="rotate(-90 577.53 447.5)">88</text>
<text x="595.3" y="447.5" font-size="10" fill="#595959" text-anchor="end" transform="rotate(-90 595.3 447.5)">91</text>
<text x="613.08" y="447.5" font-size="10" fill="#595959" text-anchor="end" transform="rotate(-90 613.08 447.5)">94</text>
<text x="630.85" y="447.5" font-size="10" fill="#595959" text-anchor="end" transform="rotate(-90 630.85 447.5)">97</text>
<text x="648.62" y="447.5" font-size="10" fill="#595959" text-anchor="end" transform="rotate(-90 648.62 447.5)">100</text>
<text x="666.39" y="447.5" font-size="10" fill="#595959" text-anchor="end" transform="rotate(-90 666.39 447.5)">103</text>
<text x="365.7" y="476" font-size="12.2" fill="#595959" text-anchor="middle" textLength="148.2" lengthAdjust="spacingAndGlyphs">Prediction Timestep (Week)</text>
<text x="312.6" y="286.4" font-size="17.4" fill="#000" text-anchor="start" textLength="98.1" lengthAdjust="spacingAndGlyphs">b) XGBOOST</text>
<text x="563.4" y="272.5" font-size="10.2" fill="#595959" text-anchor="start" textLength="28.4" lengthAdjust="spacingAndGlyphs">Actual</text>
<text x="621.7" y="272.5" font-size="10.2" fill="#595959" text-anchor="start" textLength="42.4" lengthAdjust="spacingAndGlyphs">Predicted</text>
<text x="45" y="688.34" font-size="11" fill="#595959" text-anchor="end">0</text>
<text x="45" y="665.03" font-size="11" fill="#595959" text-anchor="end">20</text>
<text x="45" y="641.72" font-size="11" fill="#595959" text-anchor="end">40</text>
<text x="45" y="618.4" font-size="11" fill="#595959" text-anchor="end">60</text>
<text x="45" y="595.09" font-size="11" fill="#595959" text-anchor="end">80</text>
<text x="45" y="571.78" font-size="11" fill="#595959" text-anchor="end">100</text>
<text x="45" y="548.47" font-size="11" fill="#595959" text-anchor="end">120</text>
<text x="45" y="525.16" font-size="11" fill="#595959" text-anchor="end">140</text>
<text x="45" y="501.84" font-size="11" fill="#595959" text-anchor="end">160</text>
<text x="19.9" y="591.4" font-size="12.4" fill="#595959" text-anchor="middle" textLength="79.2" lengthAdjust="spacingAndGlyphs" transform="rotate(-90 19.9 591.4)">Malaria Cases</text>
<text x="60.8" y="692.6" font-size="10" fill="#595959" text-anchor="end" transform="rotate(-90 60.8 692.6)">1</text>
<text x="75.6" y="692.6" font-size="10" fill="#595959" text-anchor="end" transform="rotate(-90 75.6 692.6)">18</text>
<text x="90.4" y="692.6" font-size="10" fill="#595959" text-anchor="end" transform="rotate(-90 90.4 692.6)">35</text>
<text x="105.2" y="692.6" font-size="10" fill="#595959" text-anchor="end" transform="rotate(-90 105.2 692.6)">52</text>
<text x="120" y="692.6" font-size="10" fill="#595959" text-anchor="end" transform="rotate(-90 120 692.6)">69</text>
<text x="134.8" y="692.6" font-size="10" fill="#595959" text-anchor="end" transform="rotate(-90 134.8 692.6)">86</text>
<text x="149.6" y="692.6" font-size="10" fill="#595959" text-anchor="end" transform="rotate(-90 149.6 692.6)">103</text>
<text x="164.4" y="692.6" font-size="10" fill="#595959" text-anchor="end" transform="rotate(-90 164.4 692.6)">120</text>
<text x="179.2" y="692.6" font-size="10" fill="#595959" text-anchor="end" transform="rotate(-90 179.2 692.6)">137</text>
<text x="194" y="692.6" font-size="10" fill="#595959" text-anchor="end" transform="rotate(-90 194 692.6)">154</text>
<text x="208.8" y="692.6" font-size="10" fill="#595959" text-anchor="end" transform="rotate(-90 208.8 692.6)">171</text>
<text x="223.6" y="692.6" font-size="10" fill="#595959" text-anchor="end" transform="rotate(-90 223.6 692.6)">188</text>
<text x="238.4" y="692.6" font-size="10" fill="#595959" text-anchor="end" transform="rotate(-90 238.4 692.6)">205</text>
<text x="253.2" y="692.6" font-size="10" fill="#595959" text-anchor="end" transform="rotate(-90 253.2 692.6)">222</text>
<text x="268" y="692.6" font-size="10" fill="#595959" text-anchor="end" transform="rotate(-90 268 692.6)">239</text>
<text x="282.8" y="692.6" font-size="10" fill="#595959" text-anchor="end" transform="rotate(-90 282.8 692.6)">256</text>
<text x="297.6" y="692.6" font-size="10" fill="#595959" text-anchor="end" transform="rotate(-90 297.6 692.6)">273</text>
<text x="312.4" y="692.6" font-size="10" fill="#595959" text-anchor="end" transform="rotate(-90 312.4 692.6)">290</text>
<text x="327.2" y="692.6" font-size="10" fill="#595959" text-anchor="end" transform="rotate(-90 327.2 692.6)">307</text>
<text x="342" y="692.6" font-size="10" fill="#595959" text-anchor="end" transform="rotate(-90 342 692.6)">324</text>
<text x="356.8" y="692.6" font-size="10" fill="#595959" text-anchor="end" transform="rotate(-90 356.8 692.6)">341</text>
<text x="371.6" y="692.6" font-size="10" fill="#595959" text-anchor="end" transform="rotate(-90 371.6 692.6)">358</text>
<text x="386.4" y="692.6" font-size="10" fill="#595959" text-anchor="end" transform="rotate(-90 386.4 692.6)">375</text>
<text x="401.2" y="692.6" font-size="10" fill="#595959" text-anchor="end" transform="rotate(-90 401.2 692.6)">392</text>
<text x="416" y="692.6" font-size="10" fill="#595959" text-anchor="end" transform="rotate(-90 416 692.6)">409</text>
<text x="430.81" y="692.6" font-size="10" fill="#595959" text-anchor="end" transform="rotate(-90 430.81 692.6)">426</text>
<text x="445.61" y="692.6" font-size="10" fill="#595959" text-anchor="end" transform="rotate(-90 445.61 692.6)">443</text>
<text x="460.41" y="692.6" font-size="10" fill="#595959" text-anchor="end" transform="rotate(-90 460.41 692.6)">460</text>
<text x="475.21" y="692.6" font-size="10" fill="#595959" text-anchor="end" transform="rotate(-90 475.21 692.6)">477</text>
<text x="490.01" y="692.6" font-size="10" fill="#595959" text-anchor="end" transform="rotate(-90 490.01 692.6)">494</text>
<text x="504.81" y="692.6" font-size="10" fill="#595959" text-anchor="end" transform="rotate(-90 504.81 692.6)">511</text>
<text x="519.61" y="692.6" font-size="10" fill="#595959" text-anchor="end" transform="rotate(-90 519.61 692.6)">528</text>
<text x="534.41" y="692.6" font-size="10" fill="#595959" text-anchor="end" transform="rotate(-90 534.41 692.6)">545</text>
<text x="549.21" y="692.6" font-size="10" fill="#595959" text-anchor="end" transform="rotate(-90 549.21 692.6)">562</text>
<text x="564.01" y="692.6" font-size="10" fill="#595959" text-anchor="end" transform="rotate(-90 564.01 692.6)">579</text>
<text x="578.81" y="692.6" font-size="10" fill="#595959" text-anchor="end" transform="rotate(-90 578.81 692.6)">596</text>
<text x="593.61" y="692.6" font-size="10" fill="#595959" text-anchor="end" transform="rotate(-90 593.61 692.6)">613</text>
<text x="608.41" y="692.6" font-size="10" fill="#595959" text-anchor="end" transform="rotate(-90 608.41 692.6)">630</text>
<text x="623.21" y="692.6" font-size="10" fill="#595959" text-anchor="end" transform="rotate(-90 623.21 692.6)">647</text>
<text x="638.01" y="692.6" font-size="10" fill="#595959" text-anchor="end" transform="rotate(-90 638.01 692.6)">664</text>
<text x="652.81" y="692.6" font-size="10" fill="#595959" text-anchor="end" transform="rotate(-90 652.81 692.6)">681</text>
<text x="667.61" y="692.6" font-size="10" fill="#595959" text-anchor="end" transform="rotate(-90 667.61 692.6)">698</text>
<text x="682.41" y="692.6" font-size="10" fill="#595959" text-anchor="end" transform="rotate(-90 682.41 692.6)">715</text>
<text x="368.3" y="726.3" font-size="12.2" fill="#595959" text-anchor="middle" textLength="115" lengthAdjust="spacingAndGlyphs">Prediction Timestep</text>
<text x="273.5" y="535.3" font-size="17" fill="#000" text-anchor="start" textLength="173.4" lengthAdjust="spacingAndGlyphs">c) Transformer Model</text>
<text x="293.7" y="517" font-size="10.2" fill="#595959" text-anchor="start" textLength="31.2" lengthAdjust="spacingAndGlyphs">Actual</text>
<text x="384.3" y="517" font-size="10.2" fill="#595959" text-anchor="start" textLength="78.7" lengthAdjust="spacingAndGlyphs">Prediction (Test)</text>
<text x="522.7" y="517" font-size="10.2" fill="#595959" text-anchor="start" textLength="120.9" lengthAdjust="spacingAndGlyphs">Prediction (Independent)</text>
</svg>
</body></html>
